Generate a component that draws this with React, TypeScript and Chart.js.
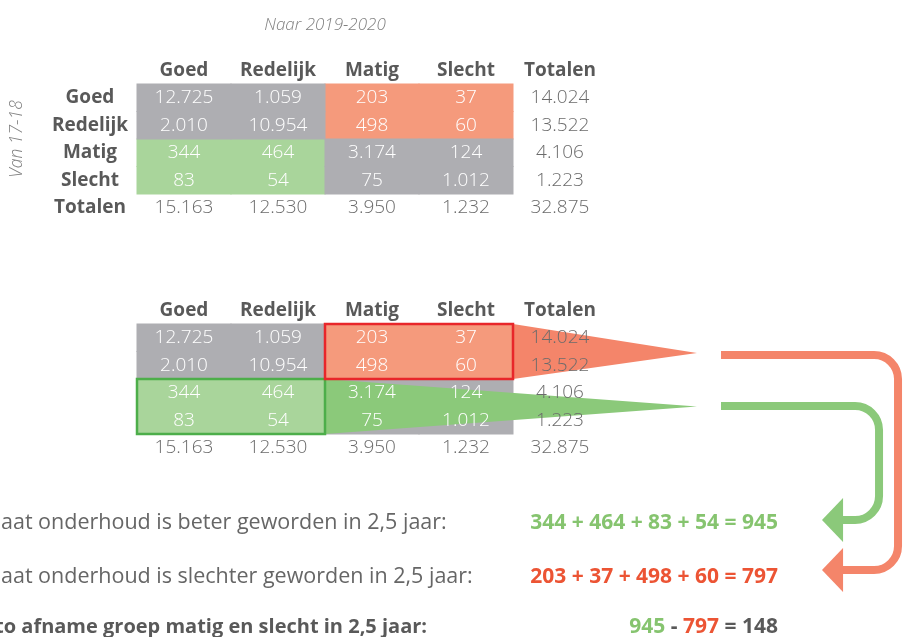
import React, { useEffect, useRef } from 'react';
import { Chart, registerables } from 'chart.js';

Chart.register(...registerables);

// ---------- data ----------
const title = 'Naar 2019-2020';
const rowAxisTitle = 'Van 17-18';
const categories = ['Goed', 'Redelijk', 'Matig', 'Slecht'];
const totalLabel = 'Totalen';
const fromGoed = [12725, 1059, 203, 37];
const fromRedelijk = [2010, 10954, 498, 60];
const fromMatig = [344, 464, 3174, 124];
const fromSlecht = [83, 54, 75, 1012];
const rowTotals = [14024, 13522, 4106, 1223];
const columnTotals = [15163, 12530, 3950, 1232];
const grandTotal = 32875;
const categoryGroup = [0, 0, 1, 1]; // 0 = goed/redelijk, 1 = matig/slecht
const betterTerms = [344, 464, 83, 54];
const betterTotal = 945;
const worseTerms = [203, 37, 498, 60];
const worseTotal = 797;
const netChange = 148;
const betterText = 'aat onderhoud is beter geworden in 2,5 jaar:';
const worseText = 'aat onderhoud is slechter geworden in 2,5 jaar:';
const netText = 'to afname groep matig en slecht in 2,5 jaar:';

// ---------- layout ----------
const W = 904;
const H = 637;
const COL_PX = 94;
const COL0_PX = 184;
const ROW_PX = 27.5;
const ROW0_PX = 97.75;
const X_MIN = -COL0_PX / COL_PX;
const X_MAX = (W - COL0_PX) / COL_PX;
const Y_MIN = -ROW0_PX / ROW_PX;
const Y_MAX = (H - ROW0_PX) / ROW_PX;
const T2 = 240 / ROW_PX; // second table offset in rows
const TIP_X = 5.457;

const COLORS = {
  gray: '#AEAEB2',
  orange: '#F59A7C',
  green: '#A9D59B',
  orangeDark: '#F4856A',
  greenDark: '#8BC97A',
  red: '#E8262A',
  greenLine: '#4DAE4A',
  header: '#595959',
  total: '#6b6b6b',
  note: '#808080',
  text: '#666666',
  eqGreen: '#86C46F',
  eqRed: '#EC5434',
};

const FONT = '"Open Sans", "DejaVu Sans", sans-serif';
const matrix = [fromGoed, fromRedelijk, fromMatig, fromSlecht];

function fmt(n: number): string {
  return String(n).replace(/\B(?=(\d{3})+(?!\d))/g, '.');
}

function cellsFor(kind: string, offset: number) {
  const out: any[] = [];
  matrix.forEach((row, i) =>
    row.forEach((v, j) => {
      const k =
        categoryGroup[i] === categoryGroup[j]
          ? 'same'
          : categoryGroup[j] > categoryGroup[i]
          ? 'worse'
          : 'better';
      if (k === kind) out.push({ x: [j - 0.5, j + 0.5], y: i + offset, v });
    })
  );
  return out;
}

function barSet(kind: string, color: string) {
  return {
    type: 'bar',
    indexAxis: 'y',
    grouped: false,
    data: [...cellsFor(kind, 0), ...cellsFor(kind, T2)],
    backgroundColor: color,
    borderWidth: 0,
    barThickness: ROW_PX,
    barPercentage: 1,
    categoryPercentage: 1,
    inflateAmount: 0.5,
    order: 10,
  };
}

function lineSet(points: any[], color: string, extra: any) {
  return {
    type: 'line',
    data: points,
    borderColor: color,
    backgroundColor: color,
    pointRadius: 0,
    tension: 0,
    ...extra,
  };
}

const annotate = {
  id: 'annotate',
  beforeDatasetsDraw(chart: any) {
    const ctx = chart.ctx;
    const X = (v: number) => chart.scales.x.getPixelForValue(v);
    const Y = (v: number) => chart.scales.y.getPixelForValue(v);
    const arrows = [
      { color: COLORS.orangeDark, y0: T2 + 0.63, right: 7.596, y1: T2 + 8.445 },
      { color: COLORS.greenDark, y0: T2 + 2.48, right: 7.394, y1: T2 + 6.627 },
    ];
    const startX = X(5.713);
    const baseX = X(7.011);
    const tipX = X(6.787);
    const half = 22;
    const R = 24;
    arrows.forEach((a) => {
      const sy = Y(a.y0);
      const rx = X(a.right);
      const by = Y(a.y1);
      ctx.save();
      ctx.strokeStyle = a.color;
      ctx.fillStyle = a.color;
      ctx.lineWidth = 8;
      ctx.beginPath();
      ctx.moveTo(startX, sy);
      ctx.arcTo(rx, sy, rx, by, R);
      ctx.arcTo(rx, by, baseX, by, R);
      ctx.lineTo(baseX - 1, by);
      ctx.stroke();
      ctx.beginPath();
      ctx.moveTo(baseX, by - half);
      ctx.lineTo(baseX, by + half);
      ctx.lineTo(tipX, by);
      ctx.closePath();
      ctx.fill();
      ctx.restore();
    });
  },
  afterDatasetsDraw(chart: any) {
    const ctx = chart.ctx;
    const X = (v: number) => chart.scales.x.getPixelForValue(v);
    const Y = (v: number) => chart.scales.y.getPixelForValue(v);
    const txt = (
      s: string,
      x: number,
      y: number,
      font: string,
      color: string,
      align: CanvasTextAlign = 'center',
      baseline: CanvasTextBaseline = 'middle'
    ) => {
      ctx.font = font;
      ctx.fillStyle = color;
      ctx.textAlign = align;
      ctx.textBaseline = baseline;
      ctx.fillText(s, x, y);
    };
    ctx.save();
    const headFont = `bold 19px ${FONT}`;
    const cellFont = `300 19px ${FONT}`;
    // title
    txt(title, X(1.5), Y(-2.64), `italic 300 17px ${FONT}`, COLORS.note);
    ctx.save();
    ctx.translate(X(-1.78), Y(1.5));
    ctx.rotate(-Math.PI / 2);
    txt(rowAxisTitle, 0, 0, `italic 300 17.5px ${FONT}`, COLORS.note);
    ctx.restore();
    // row labels (first table)
    categories.forEach((c, i) => txt(c, X(-1), Y(i), headFont, COLORS.header));
    txt(totalLabel, X(-1), Y(4), headFont, COLORS.header);
    [0, T2].forEach((off) => {
      categories.forEach((c, j) => txt(c, X(j), Y(off - 0.98), headFont, COLORS.header));
      txt(totalLabel, X(4), Y(off - 0.98), headFont, COLORS.header);
      matrix.forEach((row, i) =>
        row.forEach((v, j) => txt(fmt(v), X(j), Y(off + i), cellFont, '#ffffff'))
      );
      rowTotals.forEach((v, i) => txt(fmt(v), X(4), Y(off + i), cellFont, COLORS.total));
      columnTotals.forEach((v, j) => txt(fmt(v), X(j), Y(off + 4), cellFont, COLORS.total));
      txt(fmt(grandTotal), X(4), Y(off + 4), cellFont, COLORS.total);
    });
    // bottom statements
    const leftX = X(-1.947);
    const rightX = X(6.319);
    const lines = [15.68, 17.65, 19.47];
    const bodyFont = `21.5px ${FONT}`;
    const boldBody = `bold 20px ${FONT}`;
    const eqFont = `bold 21px ${FONT}`;
    txt(betterText, leftX, Y(lines[0]), bodyFont, COLORS.text, 'left', 'alphabetic');
    txt(worseText, leftX, Y(lines[1]), bodyFont, COLORS.text, 'left', 'alphabetic');
    txt(netText, X(-2.01), Y(lines[2]), boldBody, COLORS.header, 'left', 'alphabetic');
    txt(`${betterTerms.join(' + ')} = ${betterTotal}`, rightX, Y(lines[0]), eqFont, COLORS.eqGreen, 'right', 'alphabetic');
    txt(`${worseTerms.join(' + ')} = ${worseTotal}`, rightX, Y(lines[1]), eqFont, COLORS.eqRed, 'right', 'alphabetic');
    const parts: [string, string][] = [
      [String(betterTotal), COLORS.eqGreen],
      [' - ', COLORS.header],
      [String(worseTotal), COLORS.eqRed],
      [' = ', COLORS.header],
      [String(netChange), COLORS.header],
    ];
    ctx.font = eqFont;
    const total = parts.reduce((s, p) => s + ctx.measureText(p[0]).width, 0);
    let x = rightX - total;
    parts.forEach(([s, c]) => {
      txt(s, x, Y(lines[2]), eqFont, c, 'left', 'alphabetic');
      ctx.font = eqFont;
      x += ctx.measureText(s).width;
    });
    ctx.restore();
  },
};

export default function App() {
  const ref = useRef<HTMLCanvasElement>(null);
  useEffect(() => {
    if (!ref.current) return;
    const datasets: any[] = [
      barSet('same', COLORS.gray),
      barSet('worse', COLORS.orange),
      barSet('better', COLORS.green),
      lineSet(
        [
          { x: 3.5, y: T2 - 0.5 },
          { x: TIP_X, y: T2 + 0.55 },
        ],
        COLORS.orangeDark,
        { fill: '+1', borderWidth: 0, order: 5 }
      ),
      lineSet(
        [
          { x: 3.5, y: T2 + 1.5 },
          { x: TIP_X, y: T2 + 0.55 },
        ],
        COLORS.orangeDark,
        { fill: false, borderWidth: 0, order: 5 }
      ),
      lineSet(
        [
          { x: 1.5, y: T2 + 1.5 },
          { x: TIP_X, y: T2 + 2.5 },
        ],
        COLORS.greenDark,
        { fill: '+1', borderWidth: 0, order: 5 }
      ),
      lineSet(
        [
          { x: 1.5, y: T2 + 3.5 },
          { x: TIP_X, y: T2 + 2.5 },
        ],
        COLORS.greenDark,
        { fill: false, borderWidth: 0, order: 5 }
      ),
      lineSet(
        [
          { x: 1.5, y: T2 - 0.5 },
          { x: 3.5, y: T2 - 0.5 },
          { x: 3.5, y: T2 + 1.5 },
          { x: 1.5, y: T2 + 1.5 },
          { x: 1.5, y: T2 - 0.5 },
        ],
        COLORS.red,
        { fill: false, borderWidth: 2.5, borderCapStyle: 'square', borderJoinStyle: 'miter', order: 1 }
      ),
      lineSet(
        [
          { x: -0.5, y: T2 + 1.5 },
          { x: 1.5, y: T2 + 1.5 },
          { x: 1.5, y: T2 + 3.5 },
          { x: -0.5, y: T2 + 3.5 },
          { x: -0.5, y: T2 + 1.5 },
        ],
        COLORS.greenLine,
        { fill: false, borderWidth: 2.5, borderCapStyle: 'square', borderJoinStyle: 'miter', order: 1 }
      ),
    ];
    const chart = new Chart(ref.current, {
      type: 'bar',
      data: { datasets },
      options: {
        animation: false,
        responsive: false,
        layout: { padding: 0 },
        events: [],
        plugins: { legend: { display: false }, tooltip: { enabled: false }, title: { display: false } },
        scales: {
          x: {
            type: 'linear',
            min: X_MIN,
            max: X_MAX,
            offset: false,
            display: false,
            bounds: 'data',
            ticks: { stepSize: 100 },
          },
          y: {
            type: 'linear',
            min: Y_MIN,
            max: Y_MAX,
            reverse: true,
            offset: false,
            display: false,
            bounds: 'data',
            ticks: { stepSize: 100 },
          },
        },
      },
      plugins: [annotate],
    } as any);
    return () => chart.destroy();
  }, []);
  return (
    <div style={{ position: 'absolute', left: 0, top: 0, width: W, height: H, background: '#fff' }}>
      <canvas ref={ref} width={W} height={H} style={{ display: 'block' }} />
    </div>
  );
}
